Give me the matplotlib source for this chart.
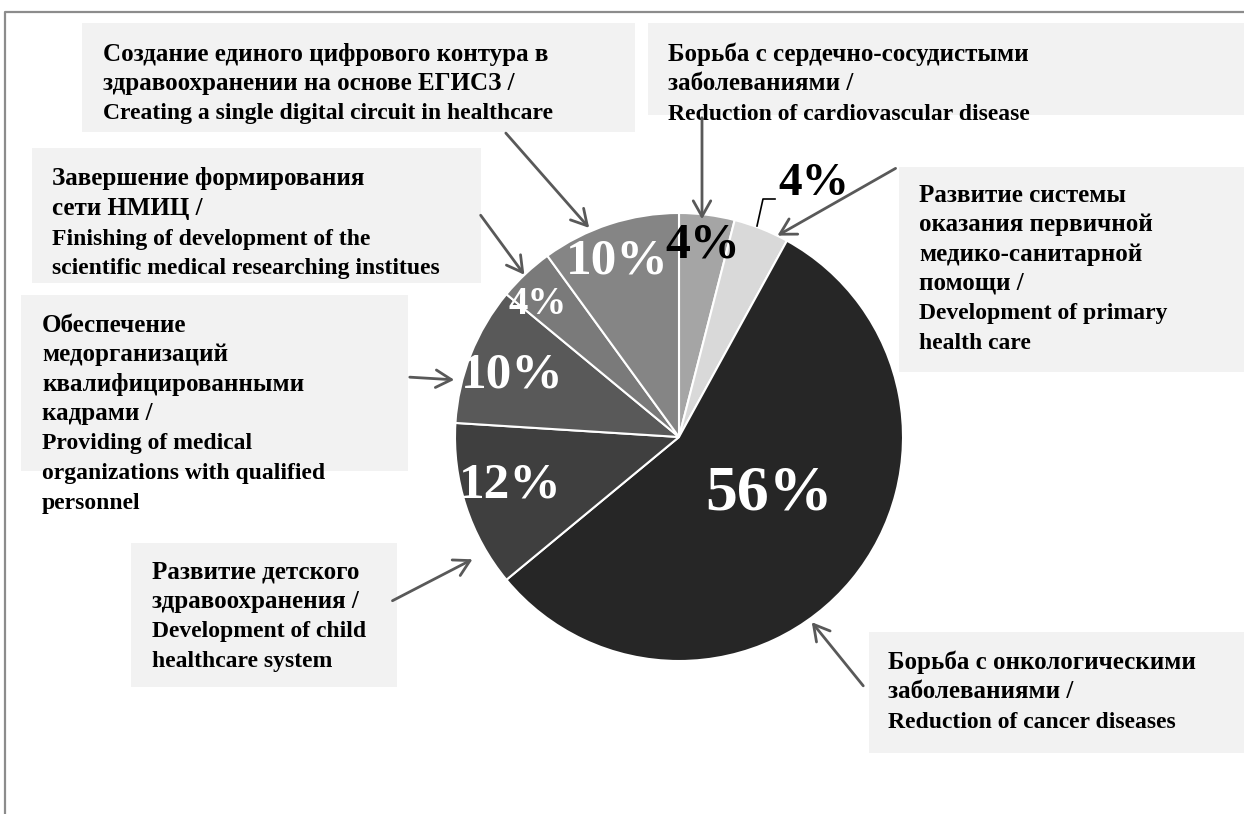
import re
import matplotlib.pyplot as plt
from matplotlib.patches import Rectangle, FancyArrowPatch

# доли направлений (по часовой стрелке, начиная сверху)
shares = [4, 4, 56, 12, 10, 4, 10]
slice_colors = ['#a5a5a5', '#d9d9d9', '#262626', '#3f3f3f', '#595959', '#7a7a7a', '#858585']

# подписи процентов: центр (px), размер шрифта, цвет
pct_pos = [(703, 245), (814, 184), (769, 495), (510, 485), (512, 375), (538, 304), (617, 262)]
pct_size = [36, 34, 46, 37, 37, 28, 37]
pct_color = ['black', 'black', 'white', 'white', 'white', 'white', 'white']

labels = [
    "Борьба с сердечно-сосудистыми\nзаболеваниями /\nReduction of cardiovascular disease",
    "Развитие системы\nоказания первичной\nмедико-санитарной\nпомощи /\nDevelopment of primary\nhealth care",
    "Борьба с онкологическими\nзаболеваниями /\nReduction of cancer diseases",
    "Развитие детского\nздравоохранения /\nDevelopment of child\nhealthcare system",
    "Обеспечение\nмедорганизаций\nквалифицированными\nкадрами /\nProviding of medical\norganizations with qualified\npersonnel",
    "Завершение формирования\nсети НМИЦ /\nFinishing of development of the\nscientific medical researching institues",
    "Создание единого цифрового контура в\nздравоохранении на основе ЕГИСЗ /\nCreating a single digital circuit in healthcare",
]
# плашки: (x0, y0, x1, y1), начало текста (x, y первой строки)
boxes = [(648, 23, 1244, 115), (899, 167, 1244, 372), (869, 632, 1244, 753),
         (131, 543, 397, 687), (21, 295, 408, 471), (32, 148, 481, 283), (82, 23, 635, 132)]
text_start = [(668, 52), (919, 193), (888, 660), (152, 570), (42, 323), (52, 177), (103, 52)]
# стрелки от плашки к сектору
arrows = [((702, 115), (702, 222)), ((898, 167), (775, 237)), ((865, 688), (810, 620)),
          ((390, 602), (475, 558)), ((407, 377), (457, 380)), ((479, 213), (526, 277)),
          ((504, 131), (591, 230))]

W, H = 1244, 814
fig = plt.figure(figsize=(W / 100, H / 100), dpi=100)
ax = fig.add_axes([0, 0, 1, 1])

font = dict(family='Liberation Serif', weight='bold')

# рамка области диаграммы
ax.plot([5, 5, W], [H, 12, 12], color='#8c8c8c', lw=1.6, solid_capstyle='butt')

# плашки с подписями
for (x0, y0, x1, y1), (tx, ty), txt in zip(boxes, text_start, labels):
    ax.add_patch(Rectangle((x0, y0), x1 - x0, y1 - y0, facecolor='#f2f2f2', edgecolor='none', zorder=1))
    for i, line in enumerate(txt.split('\n')):
        fs = 17 if re.match(r'[A-Za-z]', line) else 18
        ax.text(tx, ty + i * 29.5 + 8.5, line, fontsize=fs, va='baseline', ha='left',
                color='black', zorder=3, **font)

# круговая диаграмма (ось y перевёрнута, поэтому старт -90 и против часовой)
ax.pie(shares, colors=slice_colors, startangle=-90, counterclock=True,
       center=(679, 437), radius=224, frame=True,
       wedgeprops=dict(edgecolor='white', linewidth=1.5, zorder=2))
ax.set_xlim(0, W)
ax.set_ylim(H, 0)
ax.set_aspect('equal')
ax.axis('off')

for v, (px, py), fs, c in zip(shares, pct_pos, pct_size, pct_color):
    ax.text(px, py, f"{v}%", fontsize=fs, color=c, ha='center', va='center', zorder=4, **font)

# выноска для подписи второго сектора
ax.plot([757, 763, 775], [226, 199, 199], color='black', lw=1.2, zorder=4)

for (a, b) in arrows:
    ax.add_patch(FancyArrowPatch(a, b, arrowstyle='->,head_length=0.8,head_width=0.45',
                                 mutation_scale=14, color='#595959', lw=2, zorder=5))

fig.savefig('out.png', dpi=100)
